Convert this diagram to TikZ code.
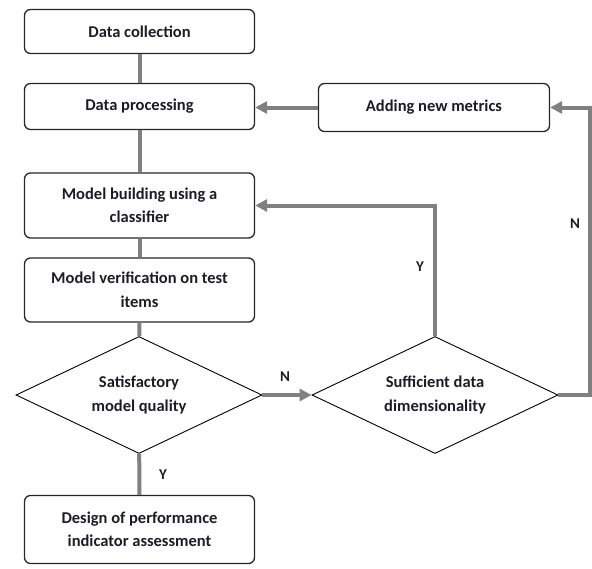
\documentclass[tikz,border=0pt]{standalone}
\usepackage{fontspec}
\setmainfont{Carlito}
\usetikzlibrary{shapes.geometric,arrows.meta}
\definecolor{txtcol}{RGB}{28,28,40}
\definecolor{linkcol}{RGB}{128,128,128}

\begin{document}
\begin{tikzpicture}[x=1pt,y=-1pt,
  stepbox/.style={draw=black!85,line width=1.3pt,rounded corners=6pt,minimum width=230pt,
    inner sep=0pt,align=center,text=txtcol,font=\bfseries\fontsize{16.5}{23.5}\selectfont},
  choice/.style={draw=black,line width=0.9pt,diamond,aspect=2.1,minimum width=246pt,
    minimum height=117pt,inner sep=0pt,align=center,text=txtcol,font=\bfseries\fontsize{16.5}{23.5}\selectfont},
  link/.style={draw=linkcol,line width=4pt},
  arrowlink/.style={link,-{Triangle[length=12pt,width=12pt]}},
  answer/.style={text=txtcol,font=\bfseries\fontsize{15}{17}\selectfont}]
\useasboundingbox (0,0) rectangle (592,568);
\node[stepbox,minimum height=44pt] (coll) at (139.5,31.5) {Data collection};
\node[stepbox,minimum height=46pt] (proc) at (139.5,106.5) {Data processing};
\node[stepbox,minimum height=48pt,minimum width=231pt] (metr) at (434,107.5) {Adding new metrics};
\node[stepbox,minimum height=65pt] (build) at (139.5,205.5) {Model building using a\\classifier};
\node[stepbox,minimum height=64pt] (verif) at (139.5,290) {Model verification on test\\items};
\node[choice] (qual) at (139,395) {Satisfactory\\model quality};
\node[choice] (dim) at (435,395) {Sufficient data\\dimensionality};
\node[stepbox,minimum height=68pt] (design) at (139.5,529.5) {Design of performance\\indicator assessment};
\coordinate (rt) at (589.5,395);
% links
\draw[link] (coll) -- (proc);
\draw[link] (proc) -- (build);
\draw[link] (build) -- (verif);
\draw[link] (verif) -- (qual);
\draw[link] (qual) -- (design);
\draw[arrowlink] (qual) -- (dim);
\draw[arrowlink] (dim.north) |- (build.east);
\draw[arrowlink] (dim.east) -- (rt) |- (metr.east);
\draw[arrowlink] (metr.west) -- (metr.west -| proc.east);
% answers
\node[answer] (y1) at (163,475) {Y};
\node[answer] (n1) at (285,377) {N};
\node[answer] (y2) at (420,267) {Y};
\node[answer] (n2) at (575,224) {N};
\end{tikzpicture}
\end{document}
